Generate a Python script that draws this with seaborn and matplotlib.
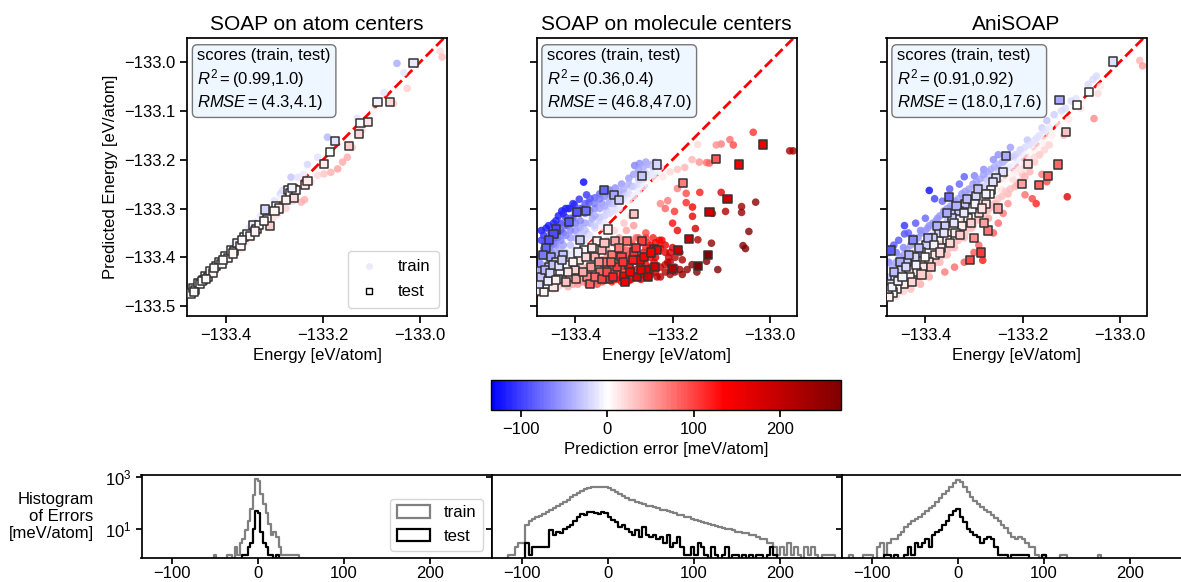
import numpy as np
import pandas as pd
import matplotlib
matplotlib.use("Agg")
import matplotlib.pyplot as plt
import matplotlib.ticker as mticker
import seaborn as sns
from matplotlib.colors import ListedColormap, Normalize
from matplotlib.lines import Line2D
from matplotlib.patches import Patch
from matplotlib.cm import ScalarMappable

# ---------------- data (true energy, predicted energy) in eV/atom ----------------
titles = ["SOAP on atom centers", "SOAP on molecule centers", "AniSOAP"]
r2_scores = [("0.99", "1.0"), ("0.36", "0.4"), ("0.91", "0.92")]
rmse_scores = [("4.3", "4.1"), ("46.8", "47.0"), ("18.0", "17.6")]

atom_train = [
    (-133.470, -133.472), (-133.466, -133.462), (-133.460, -133.457), (-133.455, -133.458),
    (-133.450, -133.444), (-133.445, -133.448), (-133.440, -133.434), (-133.435, -133.440),
    (-133.430, -133.424), (-133.425, -133.430), (-133.420, -133.412), (-133.415, -133.420),
    (-133.410, -133.404), (-133.404, -133.412), (-133.398, -133.390), (-133.392, -133.400),
    (-133.386, -133.376), (-133.380, -133.392), (-133.375, -133.365), (-133.370, -133.383),
    (-133.364, -133.352), (-133.358, -133.370), (-133.352, -133.340), (-133.346, -133.360),
    (-133.340, -133.328), (-133.334, -133.350), (-133.328, -133.315), (-133.320, -133.336),
    (-133.315, -133.300), (-133.308, -133.326), (-133.300, -133.284), (-133.294, -133.312),
    (-133.288, -133.270), (-133.283, -133.263), (-133.276, -133.300), (-133.266, -133.236),
    (-133.262, -133.285), (-133.252, -133.236), (-133.245, -133.287), (-133.238, -133.282),
    (-133.232, -133.210), (-133.225, -133.246), (-133.211, -133.195), (-133.211, -133.232),
    (-133.198, -133.229), (-133.191, -133.154), (-133.184, -133.226), (-133.178, -133.160),
    (-133.170, -133.219), (-133.160, -133.205), (-133.150, -133.195), (-133.140, -133.175),
    (-133.130, -133.115), (-133.120, -133.140), (-133.096, -133.101), (-133.089, -133.078),
    (-133.075, -133.063), (-133.055, -133.085), (-133.034, -133.022), (-133.048, -133.003),
    (-133.027, -133.054), (-132.959, -132.978), (-132.955, -132.990),
    (-133.462, -133.452), (-133.448, -133.454), (-133.438, -133.428), (-133.422, -133.426),
    (-133.408, -133.398), (-133.395, -133.405), (-133.378, -133.368), (-133.362, -133.372),
    (-133.348, -133.336), (-133.331, -133.344), (-133.318, -133.304), (-133.302, -133.318),
    (-133.286, -133.278), (-133.270, -133.262), (-133.258, -133.268), (-133.240, -133.230),
]
atom_test = [
    (-133.472, -133.474), (-133.468, -133.462), (-133.463, -133.466), (-133.458, -133.452),
    (-133.453, -133.455), (-133.447, -133.446), (-133.442, -133.438), (-133.437, -133.440),
    (-133.432, -133.427), (-133.427, -133.432), (-133.420, -133.418), (-133.414, -133.410),
    (-133.409, -133.413), (-133.402, -133.398), (-133.396, -133.401), (-133.390, -133.386),
    (-133.383, -133.387), (-133.376, -133.370), (-133.370, -133.376), (-133.362, -133.358),
    (-133.356, -133.353), (-133.350, -133.356), (-133.344, -133.334), (-133.337, -133.342),
    (-133.331, -133.334), (-133.320, -133.302), (-133.316, -133.322), (-133.310, -133.336),
    (-133.296, -133.294), (-133.290, -133.300), (-133.272, -133.262), (-133.268, -133.268),
    (-133.260, -133.278), (-133.255, -133.262), (-133.238, -133.252), (-133.232, -133.244),
    (-133.198, -133.209), (-133.185, -133.184), (-133.175, -133.162), (-133.146, -133.172),
    (-133.127, -133.148), (-133.123, -133.125), (-133.108, -133.123), (-133.088, -133.082),
    (-133.062, -133.082), (-133.014, -133.003),
    (-133.466, -133.470), (-133.450, -133.448), (-133.440, -133.444), (-133.424, -133.421),
    (-133.405, -133.406), (-133.386, -133.392), (-133.366, -133.364), (-133.340, -133.347),
    (-133.322, -133.326), (-133.300, -133.306), (-133.276, -133.283), (-133.264, -133.258),
]

mol_train = [
    (-133.383, -133.246), (-133.377, -133.272), (-133.392, -133.281), (-133.402, -133.292),
    (-133.412, -133.300), (-133.420, -133.318), (-133.430, -133.330), (-133.440, -133.340),
    (-133.448, -133.352), (-133.458, -133.366), (-133.465, -133.382), (-133.470, -133.395),
    (-133.474, -133.410), (-133.462, -133.398), (-133.452, -133.380), (-133.445, -133.372),
    (-133.436, -133.360), (-133.425, -133.350), (-133.415, -133.335), (-133.405, -133.320),
    (-133.395, -133.310), (-133.385, -133.300), (-133.372, -133.288), (-133.360, -133.278),
    (-133.350, -133.270), (-133.340, -133.266), (-133.330, -133.262), (-133.318, -133.258),
    (-133.305, -133.250), (-133.290, -133.238), (-133.278, -133.212), (-133.268, -133.208),
    (-133.255, -133.205), (-133.245, -133.210), (-133.236, -133.205), (-133.225, -133.215),
    (-133.360, -133.300), (-133.345, -133.290), (-133.330, -133.285), (-133.315, -133.280),
    (-133.300, -133.268), (-133.285, -133.255), (-133.270, -133.240), (-133.255, -133.228),
    (-133.240, -133.225), (-133.380, -133.330), (-133.365, -133.320), (-133.350, -133.318),
    (-133.335, -133.305), (-133.320, -133.300), (-133.400, -133.345), (-133.390, -133.340),
    (-133.410, -133.360), (-133.425, -133.375), (-133.440, -133.390), (-133.455, -133.410),
    (-133.465, -133.420), (-133.375, -133.352), (-133.360, -133.340), (-133.345, -133.338),
    (-133.478, -133.470), (-133.470, -133.455), (-133.465, -133.440), (-133.458, -133.430),
    (-133.450, -133.445), (-133.445, -133.425), (-133.440, -133.455), (-133.432, -133.440),
    (-133.425, -133.420), (-133.418, -133.445), (-133.410, -133.430), (-133.402, -133.410),
    (-133.395, -133.440), (-133.388, -133.420), (-133.380, -133.400), (-133.372, -133.430),
    (-133.365, -133.415), (-133.358, -133.395), (-133.350, -133.440), (-133.342, -133.420),
    (-133.335, -133.400), (-133.460, -133.460), (-133.470, -133.468), (-133.455, -133.462),
    (-133.328, -133.435), (-133.320, -133.410), (-133.312, -133.385), (-133.305, -133.440),
    (-133.298, -133.420), (-133.290, -133.395), (-133.282, -133.375), (-133.275, -133.440),
    (-133.268, -133.415), (-133.260, -133.390), (-133.252, -133.370), (-133.245, -133.435),
    (-133.238, -133.410), (-133.230, -133.385), (-133.222, -133.365), (-133.215, -133.430),
    (-133.208, -133.400), (-133.200, -133.380), (-133.310, -133.360), (-133.295, -133.345),
    (-133.280, -133.335), (-133.300, -133.330), (-133.285, -133.315), (-133.270, -133.360),
    (-133.255, -133.350), (-133.240, -133.360), (-133.320, -133.345), (-133.265, -133.445),
    (-133.290, -133.448), (-133.232, -133.440),
    (-133.250, -133.250), (-133.235, -133.240), (-133.220, -133.235), (-133.205, -133.225),
    (-133.190, -133.220), (-133.175, -133.216), (-133.160, -133.200), (-133.145, -133.205),
    (-133.148, -133.169), (-133.130, -133.206), (-133.100, -133.168), (-133.082, -133.159),
    (-133.075, -133.170), (-133.034, -133.144), (-133.190, -133.259), (-133.210, -133.284),
    (-133.215, -133.300), (-133.225, -133.290),
    (-133.172, -133.269), (-133.172, -133.288), (-133.159, -133.297), (-133.159, -133.316),
    (-133.144, -133.267), (-133.100, -133.267), (-133.118, -133.310), (-133.091, -133.306),
    (-133.058, -133.296), (-133.058, -133.308), (-133.029, -133.287), (-133.196, -133.306),
    (-133.200, -133.330), (-133.190, -133.345), (-133.153, -133.341), (-133.148, -133.364),
    (-133.120, -133.371), (-133.043, -133.347), (-133.055, -133.376), (-133.050, -133.382),
    (-133.130, -133.408), (-133.107, -133.425), (-133.210, -133.410), (-133.195, -133.420),
    (-133.180, -133.405), (-133.170, -133.425), (-133.160, -133.415), (-133.150, -133.430),
    (-133.180, -133.435), (-133.215, -133.390), (-133.227, -133.365), (-132.959, -133.182),
    (-132.952, -133.182), (-133.110, -133.170), (-133.124, -133.207),
    # blue wedge above the diagonal
    (-133.470, -133.430), (-133.470, -133.440), (-133.470, -133.415), (-133.460, -133.380),
    (-133.460, -133.420), (-133.460, -133.435), (-133.450, -133.370), (-133.450, -133.390),
    (-133.450, -133.410), (-133.450, -133.430), (-133.440, -133.360), (-133.440, -133.375),
    (-133.440, -133.400), (-133.440, -133.420), (-133.430, -133.345), (-133.430, -133.365),
    (-133.430, -133.385), (-133.430, -133.410), (-133.420, -133.335), (-133.420, -133.355),
    (-133.420, -133.390), (-133.420, -133.405), (-133.410, -133.320), (-133.410, -133.345),
    (-133.410, -133.375), (-133.410, -133.395), (-133.400, -133.310), (-133.400, -133.330),
    (-133.400, -133.360), (-133.400, -133.385), (-133.390, -133.300), (-133.390, -133.325),
    (-133.390, -133.355), (-133.390, -133.370), (-133.380, -133.290), (-133.380, -133.310),
    (-133.380, -133.345), (-133.380, -133.365), (-133.370, -133.280), (-133.370, -133.305),
    (-133.370, -133.330), (-133.370, -133.355), (-133.360, -133.290), (-133.360, -133.315),
    (-133.360, -133.335), (-133.350, -133.280), (-133.350, -133.300), (-133.350, -133.325),
    (-133.340, -133.275), (-133.340, -133.295), (-133.340, -133.315), (-133.340, -133.330),
    (-133.330, -133.270), (-133.330, -133.290), (-133.330, -133.310), (-133.320, -133.270),
    (-133.320, -133.290), (-133.320, -133.305), (-133.310, -133.265), (-133.310, -133.285),
    (-133.310, -133.300), (-133.300, -133.260), (-133.300, -133.280), (-133.290, -133.250),
    (-133.290, -133.270), (-133.290, -133.285), (-133.280, -133.230), (-133.280, -133.255),
    (-133.280, -133.275), (-133.270, -133.220), (-133.270, -133.250), (-133.270, -133.265),
    (-133.260, -133.215), (-133.260, -133.240), (-133.260, -133.255), (-133.250, -133.210),
    (-133.250, -133.235), (-133.240, -133.215), (-133.240, -133.230), (-133.230, -133.210),
    (-133.230, -133.225),
    (-133.470, -133.345), (-133.465, -133.355), (-133.460, -133.340), (-133.455, -133.335),
    (-133.450, -133.350), (-133.445, -133.330), (-133.470, -133.365), (-133.462, -133.370),
    (-133.440, -133.325), (-133.435, -133.315), (-133.428, -133.305), (-133.420, -133.300),
    (-133.425, -133.310), (-133.415, -133.300), (-133.405, -133.290),
    # dense lower band
    (-133.475, -133.460), (-133.475, -133.450), (-133.465, -133.465), (-133.465, -133.450),
    (-133.455, -133.450), (-133.455, -133.440), (-133.445, -133.465), (-133.445, -133.435),
    (-133.445, -133.445), (-133.435, -133.460), (-133.435, -133.430), (-133.435, -133.450),
    (-133.425, -133.455), (-133.425, -133.440), (-133.425, -133.430), (-133.415, -133.460),
    (-133.415, -133.425), (-133.415, -133.410), (-133.405, -133.455), (-133.405, -133.445),
    (-133.405, -133.420), (-133.405, -133.400), (-133.395, -133.455), (-133.395, -133.425),
    (-133.395, -133.410), (-133.395, -133.390), (-133.385, -133.450), (-133.385, -133.435),
    (-133.385, -133.405), (-133.385, -133.385), (-133.375, -133.455), (-133.375, -133.420),
    (-133.375, -133.400), (-133.375, -133.380), (-133.365, -133.450), (-133.365, -133.430),
    (-133.365, -133.400), (-133.365, -133.375), (-133.355, -133.455), (-133.355, -133.410),
    (-133.355, -133.385), (-133.355, -133.370), (-133.345, -133.450), (-133.345, -133.430),
    (-133.345, -133.405), (-133.345, -133.375), (-133.335, -133.445), (-133.335, -133.420),
    (-133.335, -133.385), (-133.335, -133.365), (-133.325, -133.450), (-133.325, -133.420),
    (-133.325, -133.400), (-133.325, -133.370), (-133.315, -133.445), (-133.315, -133.430),
    (-133.315, -133.395), (-133.315, -133.375), (-133.305, -133.450), (-133.305, -133.420),
    (-133.305, -133.380), (-133.305, -133.365), (-133.295, -133.440), (-133.295, -133.410),
    (-133.295, -133.385), (-133.295, -133.365), (-133.285, -133.445), (-133.285, -133.425),
    (-133.285, -133.400), (-133.285, -133.370), (-133.275, -133.425), (-133.275, -133.400),
    (-133.275, -133.380), (-133.275, -133.360), (-133.265, -133.435), (-133.265, -133.400),
    (-133.265, -133.370), (-133.255, -133.440), (-133.255, -133.415), (-133.255, -133.380),
    (-133.255, -133.360), (-133.245, -133.420), (-133.245, -133.400), (-133.245, -133.375),
    (-133.235, -133.430), (-133.235, -133.400), (-133.235, -133.370), (-133.225, -133.440),
    (-133.225, -133.420), (-133.225, -133.380), (-133.215, -133.415), (-133.215, -133.375),
    (-133.205, -133.435), (-133.205, -133.410), (-133.205, -133.390), (-133.195, -133.430),
    (-133.195, -133.400), (-133.185, -133.425), (-133.185, -133.390),
]
mol_test = [
    (-133.232, -133.210), (-133.262, -133.233), (-133.342, -133.262), (-133.320, -133.273),
    (-133.310, -133.283), (-133.397, -133.307), (-133.379, -133.305), (-133.414, -133.327),
    (-133.439, -133.343), (-133.445, -133.352), (-133.455, -133.365), (-133.460, -133.380),
    (-133.466, -133.395), (-133.472, -133.427), (-133.469, -133.464), (-133.470, -133.450),
    (-133.462, -133.440), (-133.455, -133.420), (-133.450, -133.400), (-133.440, -133.410),
    (-133.432, -133.430), (-133.425, -133.395), (-133.418, -133.415), (-133.410, -133.440),
    (-133.400, -133.425), (-133.390, -133.365), (-133.392, -133.405), (-133.382, -133.385),
    (-133.375, -133.440), (-133.368, -133.420), (-133.360, -133.400), (-133.355, -133.366),
    (-133.350, -133.430), (-133.345, -133.385), (-133.338, -133.410), (-133.333, -133.343),
    (-133.330, -133.445), (-133.325, -133.395), (-133.318, -133.366), (-133.315, -133.420),
    (-133.305, -133.400), (-133.300, -133.438), (-133.293, -133.366), (-133.290, -133.415),
    (-133.280, -133.311), (-133.280, -133.390), (-133.273, -133.440), (-133.268, -133.405),
    (-133.262, -133.366), (-133.255, -133.425), (-133.239, -133.382), (-133.232, -133.385),
    (-133.201, -133.423), (-133.188, -133.384), (-133.167, -133.363), (-133.148, -133.418),
    (-133.128, -133.395), (-133.124, -133.308), (-133.087, -133.280), (-133.064, -133.210),
    (-133.110, -133.198), (-133.179, -133.248), (-133.014, -133.169), (-133.478, -133.468),
    (-133.465, -133.470), (-133.458, -133.455), (-133.445, -133.460), (-133.435, -133.445),
    (-133.475, -133.455), (-133.470, -133.440), (-133.463, -133.425), (-133.457, -133.448),
    (-133.452, -133.432), (-133.446, -133.415), (-133.440, -133.447), (-133.433, -133.418),
    (-133.428, -133.405), (-133.420, -133.450), (-133.415, -133.430), (-133.405, -133.410),
    (-133.398, -133.445), (-133.395, -133.390), (-133.385, -133.430), (-133.378, -133.400),
    (-133.370, -133.455), (-133.365, -133.380), (-133.360, -133.440), (-133.352, -133.410),
    (-133.345, -133.445), (-133.340, -133.370), (-133.335, -133.430), (-133.327, -133.410),
    (-133.322, -133.440), (-133.310, -133.380), (-133.302, -133.410), (-133.297, -133.450),
    (-133.287, -133.430), (-133.282, -133.405), (-133.275, -133.380), (-133.265, -133.425),
    (-133.258, -133.400), (-133.250, -133.440), (-133.245, -133.390), (-133.236, -133.420),
]

ani_train = [
    (-132.959, -132.997), (-132.953, -133.008), (-133.048, -133.029), (-133.055, -133.036),
    (-133.065, -133.046), (-133.040, -133.050), (-133.045, -133.065), (-133.053, -133.116),
    (-133.080, -133.095), (-133.090, -133.075), (-133.100, -133.080), (-133.105, -133.118),
    (-133.112, -133.095), (-133.120, -133.100), (-133.115, -133.150), (-133.125, -133.130),
    (-133.135, -133.108), (-133.140, -133.150), (-133.150, -133.120), (-133.155, -133.165),
    (-133.160, -133.135), (-133.165, -133.190), (-133.170, -133.155), (-133.175, -133.205),
    (-133.180, -133.170), (-133.185, -133.225), (-133.190, -133.160), (-133.195, -133.210),
    (-133.200, -133.230), (-133.205, -133.180), (-133.210, -133.250), (-133.215, -133.195),
    (-133.220, -133.240), (-133.225, -133.175), (-133.230, -133.270), (-133.234, -133.192),
    (-133.240, -133.205), (-133.245, -133.260), (-133.250, -133.220), (-133.255, -133.290),
    (-133.260, -133.235), (-133.268, -133.300), (-133.275, -133.240), (-133.280, -133.320),
    (-133.290, -133.255), (-133.299, -133.233), (-133.305, -133.340), (-133.310, -133.270),
    (-133.318, -133.300), (-133.320, -133.360), (-133.325, -133.290), (-133.335, -133.310),
    (-133.340, -133.380), (-133.345, -133.300), (-133.350, -133.330), (-133.355, -133.395),
    (-133.360, -133.310), (-133.365, -133.345), (-133.370, -133.410), (-133.375, -133.320),
    (-133.381, -133.280), (-133.392, -133.263), (-133.385, -133.360), (-133.390, -133.420),
    (-133.395, -133.340), (-133.400, -133.375), (-133.405, -133.430), (-133.410, -133.345),
    (-133.415, -133.390), (-133.420, -133.440), (-133.425, -133.360), (-133.430, -133.400),
    (-133.435, -133.445), (-133.443, -133.335), (-133.443, -133.352), (-133.445, -133.380),
    (-133.450, -133.420), (-133.455, -133.455), (-133.460, -133.390), (-133.465, -133.430),
    (-133.470, -133.470), (-133.475, -133.410), (-133.475, -133.450), (-133.478, -133.478),
    (-133.108, -133.276), (-133.172, -133.290), (-133.180, -133.280), (-133.195, -133.272),
    (-133.150, -133.245), (-133.160, -133.230), (-133.282, -133.406), (-133.300, -133.390),
    (-133.290, -133.375), (-133.260, -133.350), (-133.250, -133.330), (-133.240, -133.310),
    (-133.320, -133.410), (-133.340, -133.420), (-133.360, -133.430), (-133.392, -133.440),
    (-133.410, -133.455), (-133.430, -133.465), (-133.270, -133.320), (-133.230, -133.290),
    (-133.330, -133.250), (-133.320, -133.235), (-133.350, -133.260), (-133.365, -133.285),
    (-133.400, -133.320), (-133.420, -133.330), (-133.435, -133.350), (-133.455, -133.365),
    (-133.465, -133.375), (-133.475, -133.390), (-133.280, -133.220), (-133.260, -133.200),
    (-133.250, -133.190),
    # dense band along the diagonal
    (-133.475, -133.440), (-133.475, -133.465), (-133.475, -133.485), (-133.468, -133.420),
    (-133.468, -133.445), (-133.468, -133.475), (-133.460, -133.410), (-133.460, -133.435),
    (-133.460, -133.460), (-133.460, -133.480), (-133.452, -133.400), (-133.452, -133.430),
    (-133.452, -133.470), (-133.445, -133.395), (-133.445, -133.420), (-133.445, -133.445),
    (-133.445, -133.470), (-133.438, -133.385), (-133.438, -133.410), (-133.438, -133.435),
    (-133.438, -133.460), (-133.430, -133.375), (-133.430, -133.405), (-133.430, -133.430),
    (-133.430, -133.455), (-133.422, -133.370), (-133.422, -133.395), (-133.422, -133.420),
    (-133.422, -133.450), (-133.415, -133.360), (-133.415, -133.385), (-133.415, -133.415),
    (-133.415, -133.445), (-133.408, -133.350), (-133.408, -133.380), (-133.408, -133.405),
    (-133.408, -133.440), (-133.400, -133.345), (-133.400, -133.370), (-133.400, -133.400),
    (-133.400, -133.430), (-133.392, -133.335), (-133.392, -133.360), (-133.392, -133.390),
    (-133.392, -133.425), (-133.385, -133.330), (-133.385, -133.355), (-133.385, -133.385),
    (-133.385, -133.415), (-133.378, -133.325), (-133.378, -133.350), (-133.378, -133.375),
    (-133.378, -133.410), (-133.370, -133.315), (-133.370, -133.340), (-133.370, -133.370),
    (-133.370, -133.400), (-133.362, -133.305), (-133.362, -133.335), (-133.362, -133.360),
    (-133.362, -133.395), (-133.355, -133.300), (-133.355, -133.325), (-133.355, -133.355),
    (-133.355, -133.385), (-133.348, -133.295), (-133.348, -133.320), (-133.348, -133.345),
    (-133.348, -133.380), (-133.340, -133.285), (-133.340, -133.310), (-133.340, -133.340),
    (-133.340, -133.370), (-133.332, -133.280), (-133.332, -133.300), (-133.332, -133.330),
    (-133.332, -133.365), (-133.325, -133.270), (-133.325, -133.295), (-133.325, -133.325),
    (-133.325, -133.355), (-133.318, -133.265), (-133.318, -133.290), (-133.318, -133.315),
    (-133.318, -133.350), (-133.310, -133.260), (-133.310, -133.280), (-133.310, -133.310),
    (-133.310, -133.340), (-133.302, -133.250), (-133.302, -133.275), (-133.302, -133.300),
    (-133.302, -133.335), (-133.295, -133.245), (-133.295, -133.270), (-133.295, -133.295),
    (-133.295, -133.325), (-133.288, -133.240), (-133.288, -133.260), (-133.288, -133.290),
    (-133.288, -133.320), (-133.280, -133.230), (-133.280, -133.255), (-133.280, -133.280),
    (-133.280, -133.310), (-133.272, -133.225), (-133.272, -133.250), (-133.272, -133.270),
    (-133.272, -133.305), (-133.265, -133.220), (-133.265, -133.240), (-133.265, -133.265),
    (-133.265, -133.295), (-133.258, -133.215), (-133.258, -133.235), (-133.258, -133.260),
    (-133.258, -133.290), (-133.250, -133.210), (-133.250, -133.230), (-133.250, -133.250),
    (-133.250, -133.280), (-133.242, -133.205), (-133.242, -133.225), (-133.242, -133.245),
    (-133.242, -133.275), (-133.235, -133.200), (-133.235, -133.220), (-133.235, -133.240),
    (-133.235, -133.265), (-133.225, -133.195), (-133.225, -133.215), (-133.225, -133.230),
    (-133.225, -133.260), (-133.215, -133.190), (-133.215, -133.210), (-133.215, -133.225),
    (-133.215, -133.255), (-133.205, -133.185), (-133.205, -133.200), (-133.205, -133.220),
    (-133.205, -133.245), (-133.195, -133.175), (-133.195, -133.190), (-133.195, -133.215),
    (-133.195, -133.235), (-133.185, -133.170), (-133.185, -133.185), (-133.185, -133.200),
    (-133.175, -133.160), (-133.175, -133.180), (-133.175, -133.195), (-133.165, -133.150),
    (-133.165, -133.170), (-133.165, -133.190), (-133.155, -133.140), (-133.155, -133.160),
    (-133.155, -133.180), (-133.145, -133.135), (-133.145, -133.150), (-133.145, -133.170),
]
ani_test = [
    (-133.014, -132.999), (-133.063, -133.061), (-133.088, -133.088), (-133.124, -133.078),
    (-133.110, -133.144), (-133.128, -133.210), (-133.148, -133.233), (-133.167, -133.252),
    (-133.189, -133.209), (-133.201, -133.250), (-133.234, -133.192), (-133.240, -133.225),
    (-133.255, -133.238), (-133.261, -133.246), (-133.265, -133.262), (-133.268, -133.270),
    (-133.275, -133.290), (-133.271, -133.345), (-133.285, -133.390), (-133.309, -133.406),
    (-133.290, -133.310), (-133.295, -133.275), (-133.305, -133.300), (-133.312, -133.320),
    (-133.318, -133.290), (-133.325, -133.335), (-133.330, -133.305), (-133.338, -133.350),
    (-133.345, -133.320), (-133.351, -133.277), (-133.355, -133.365), (-133.360, -133.335),
    (-133.368, -133.380), (-133.372, -133.350), (-133.380, -133.395), (-133.385, -133.360),
    (-133.392, -133.410), (-133.398, -133.375), (-133.405, -133.420), (-133.410, -133.390),
    (-133.418, -133.430), (-133.422, -133.400), (-133.426, -133.365), (-133.432, -133.440),
    (-133.438, -133.410), (-133.445, -133.455), (-133.450, -133.425), (-133.458, -133.465),
    (-133.462, -133.440), (-133.466, -133.472), (-133.471, -133.386), (-133.470, -133.455),
    (-133.474, -133.481), (-133.476, -133.465), (-133.300, -133.360), (-133.280, -133.330),
    (-133.250, -133.300),
    (-133.468, -133.460), (-133.464, -133.430), (-133.457, -133.448), (-133.452, -133.410),
    (-133.447, -133.440), (-133.440, -133.420), (-133.434, -133.395), (-133.428, -133.450),
    (-133.420, -133.415), (-133.414, -133.380), (-133.408, -133.435), (-133.400, -133.400),
    (-133.395, -133.360), (-133.388, -133.420), (-133.382, -133.375), (-133.376, -133.335),
    (-133.370, -133.390), (-133.362, -133.350), (-133.356, -133.310), (-133.350, -133.370),
    (-133.342, -133.330), (-133.336, -133.295), (-133.328, -133.355), (-133.320, -133.310),
    (-133.314, -133.280), (-133.306, -133.330), (-133.298, -133.290), (-133.292, -133.260),
    (-133.284, -133.300), (-133.276, -133.270),
]

# ---------------- histogram data (bin start [meV], bin width [meV], counts) ----------------
atom_hist_train_start, atom_hist_train_width = -54, 3
atom_hist_train = [0, 1, 0, 0, 0, 0, 1, 1, 0, 2, 1, 3, 4, 9, 20, 60, 200, 870, 700, 220, 90, 40,
                   15, 6, 8, 5, 2, 1, 1, 1, 1, 1, 1, 1, 0]
atom_hist_test_start, atom_hist_test_width = -21, 3
atom_hist_test = [0, 1, 1, 2, 3, 10, 50, 40, 8, 3, 2, 1, 1, 0, 1, 0]

mol_hist_train_start, mol_hist_train_width = -120, 4
mol_hist_train = [0, 1, 1, 2, 3, 3, 14, 20, 24, 28, 32, 38, 45, 52, 62, 75, 90, 110, 135, 165, 200,
                  250, 300, 340, 380, 410, 420, 400, 425, 430, 390, 320, 260, 220, 190, 160, 135,
                  125, 110, 100, 90, 80, 74, 70, 62, 56, 52, 48, 44, 40, 36, 34, 30, 28, 25, 23,
                  21, 19, 17, 15, 14, 13, 12, 11, 10, 10, 9, 8, 8, 7, 7, 6, 6, 5, 4, 4, 3, 3, 2,
                  1, 2, 1, 3, 1, 2, 1, 0, 2, 1, 2, 1, 0, 1, 1, 1, 1, 0]
mol_hist_test_start, mol_hist_test_width = -100, 4
mol_hist_test = [0, 3, 1, 2, 2, 2, 2, 2, 9, 6, 8, 7, 10, 12, 14, 20, 28, 38, 36, 45, 44, 42, 38,
                 46, 40, 28, 22, 18, 12, 14, 10, 8, 6, 9, 5, 12, 6, 5, 6, 4, 5, 3, 6, 2, 3, 5, 2,
                 1, 1, 2, 1, 3, 2, 1, 0, 2, 1, 0, 1, 2, 0, 1, 1, 0, 1, 0, 1, 0, 1, 1, 0, 1, 2, 1, 0]

ani_hist_train_start, ani_hist_train_width = -130, 4
ani_hist_train = [0, 1, 0, 0, 0, 1, 1, 1, 0, 2, 3, 1, 3, 4, 4, 6, 8, 12, 16, 20, 24, 30, 38, 48,
                  62, 80, 110, 150, 220, 300, 420, 600, 780, 650, 420, 260, 170, 120, 90, 70, 55,
                  45, 35, 26, 20, 14, 11, 7, 5, 4, 5, 4, 3, 2, 2, 1, 0, 1, 0, 0, 0, 0, 1, 1, 0,
                  0, 0, 0, 0, 0, 0, 0, 0, 1, 0]
ani_hist_test_start, ani_hist_test_width = -90, 4
ani_hist_test = [0, 1, 1, 0, 1, 0, 0, 1, 2, 1, 3, 2, 3, 4, 2, 6, 8, 9, 14, 20, 34, 48, 60, 30, 18,
                 10, 8, 6, 5, 3, 4, 5, 4, 2, 1, 1, 1, 0, 1, 1, 1, 1, 1, 0, 0, 0, 0, 1, 0]

# ---------------- style ----------------
sns.set_theme(style="ticks")
plt.rcParams["font.family"] = ["Liberation Sans", "DejaVu Sans"]
plt.rcParams["mathtext.fontset"] = "custom"
plt.rcParams["mathtext.rm"] = "Liberation Sans"
plt.rcParams["mathtext.it"] = "Liberation Sans:italic"
plt.rcParams["axes.unicode_minus"] = True
for key in ["text.color", "axes.labelcolor", "xtick.color", "ytick.color", "axes.edgecolor"]:
    plt.rcParams[key] = "black"

FS = 12
ERR_MIN, ERR_MAX = -135, 271
base = plt.get_cmap("seismic")
cmap = ListedColormap(base(np.linspace(0.25, 1.0, 256)))
norm = Normalize(ERR_MIN, ERR_MAX)

minus_fmt = mticker.FuncFormatter(lambda v, p: f"{v:.1f}".replace("-", "\u2212"))

W, H = 1181, 582
fig = plt.figure(figsize=(W / 100, H / 100), dpi=100)

def px_axes(left, top, width, height):
    return fig.add_axes([left / W, 1 - (top + height) / H, width / W, height / H])

XLIM = (-133.48, -132.945)
YLIM = (-133.52, -132.951)

panels = [(atom_train, atom_test), (mol_train, mol_test), (ani_train, ani_test)]
lefts = [187, 536.5, 886.5]
top_axes = []
for i, (train, test) in enumerate(panels):
    ax = px_axes(lefts[i], 38, 260, 278)
    top_axes.append(ax)
    tr = pd.DataFrame(train, columns=["true", "pred"])
    te = pd.DataFrame(test, columns=["true", "pred"])
    tr["err"] = (tr["true"] - tr["pred"]) * 1000
    te["err"] = (te["true"] - te["pred"]) * 1000
    ax.plot(XLIM, XLIM, color="red", ls="--", lw=2, zorder=1)
    sns.scatterplot(data=tr, x="true", y="pred", hue="err", palette=cmap, hue_norm=norm,
                    s=30, alpha=0.8, linewidth=0, legend=False, ax=ax, zorder=2)
    sns.scatterplot(data=te, x="true", y="pred", hue="err", palette=cmap, hue_norm=norm,
                    marker="s", s=34, edgecolor="#333333", linewidth=1.1, legend=False,
                    ax=ax, zorder=3)
    ax.set_xlim(XLIM)
    ax.set_ylim(YLIM)
    ax.set_xticks([-133.4, -133.2, -133.0])
    ax.set_yticks([-133.5, -133.4, -133.3, -133.2, -133.1, -133.0])
    ax.xaxis.set_major_formatter(minus_fmt)
    ax.yaxis.set_major_formatter(minus_fmt)
    ax.tick_params(labelsize=FS, direction="out", length=5)
    ax.set_title(titles[i], fontsize=15)
    ax.set_xlabel("Energy [eV/atom]", fontsize=FS)
    if i == 0:
        ax.set_ylabel("Predicted Energy [eV/atom]", fontsize=FS)
    else:
        ax.set_ylabel("")
        ax.tick_params(labelleft=False)
    txt = ("scores (train, test)\n"
           f"$R^2 = ({r2_scores[i][0]}{{,}}{r2_scores[i][1]})$\n"
           f"$RMSE = ({rmse_scores[i][0]}{{,}}{rmse_scores[i][1]})$")
    ax.text(0.04, 0.965, txt, transform=ax.transAxes, fontsize=FS, va="top", ha="left",
            linespacing=1.25,
            bbox=dict(boxstyle="round,pad=0.3", facecolor="#eef6ff", edgecolor="#777777"),
            zorder=5)

h_train = Line2D([], [], marker="o", ls="none", markersize=5, markerfacecolor="#ecebfa",
                 markeredgecolor="none")
h_test = Line2D([], [], marker="s", ls="none", markersize=5, markerfacecolor="white",
                markeredgecolor="black", markeredgewidth=1)
top_axes[0].legend([h_train, h_test], ["train", "test"], loc="lower right", fontsize=FS,
                   handlelength=1.5, handletextpad=1.0, borderpad=0.5, labelspacing=0.6)

# ---------------- colorbar ----------------
cax = px_axes(491, 380, 350, 30)
cb = fig.colorbar(ScalarMappable(norm=norm, cmap=cmap), cax=cax, orientation="horizontal")
cb.set_ticks([-100, 0, 100, 200])
cb.ax.tick_params(labelsize=FS, length=5)
cb.set_label("Prediction error [meV/atom]", fontsize=FS)
cb.outline.set_linewidth(1.0)

# ---------------- histograms ----------------
hist_sets = [
    (atom_hist_train_start, atom_hist_train_width, atom_hist_train,
     atom_hist_test_start, atom_hist_test_width, atom_hist_test),
    (mol_hist_train_start, mol_hist_train_width, mol_hist_train,
     mol_hist_test_start, mol_hist_test_width, mol_hist_test),
    (ani_hist_train_start, ani_hist_train_width, ani_hist_train,
     ani_hist_test_start, ani_hist_test_width, ani_hist_test),
]
hist_lefts = [141.5, 491.5, 841.5]
for i, (s0, w0, c0, s1, w1, c1) in enumerate(hist_sets):
    ax = px_axes(hist_lefts[i], 475, 350, 83)
    for start, width, counts, color in [(s0, w0, c0, "gray"), (s1, w1, c1, "black")]:
        edges = [start + width * k for k in range(len(counts) + 1)]
        hdf = pd.DataFrame({"center": [e + width / 2 for e in edges[:-1]],
                            "count": counts})
        sns.histplot(data=hdf, x="center", weights="count", bins=edges, element="step",
                     fill=False, color=color, linewidth=1.6, ax=ax)
    ax.set_yscale("log")
    ax.set_ylim(0.77, 1190)
    ax.set_xlim(ERR_MIN, ERR_MAX)
    ax.set_yticks([10, 1000])
    ax.yaxis.set_minor_locator(mticker.NullLocator())
    ax.set_xticks([-100, 0, 100, 200])
    ax.tick_params(labelsize=FS, direction="out", length=4)
    ax.tick_params(axis="x", pad=2)
    ax.set_xlabel("")
    if i == 0:
        ax.set_ylabel("Histogram\nof Errors\n[meV/atom]", fontsize=FS, rotation=0,
                      ha="right", va="center", multialignment="right")
        ax.yaxis.set_label_coords(-48 / 350, 0.5)
        ax.legend([Patch(facecolor="none", edgecolor="gray", linewidth=1.6),
                   Patch(facecolor="none", edgecolor="black", linewidth=1.6)],
                  ["train", "test"], loc="lower right", bbox_to_anchor=(0.976, 0.09),
                  borderaxespad=0, fontsize=FS, handlelength=2.0, handleheight=0.8)
    else:
        ax.set_ylabel("")
        ax.tick_params(labelleft=False)

fig.savefig("out.png", dpi=100)
